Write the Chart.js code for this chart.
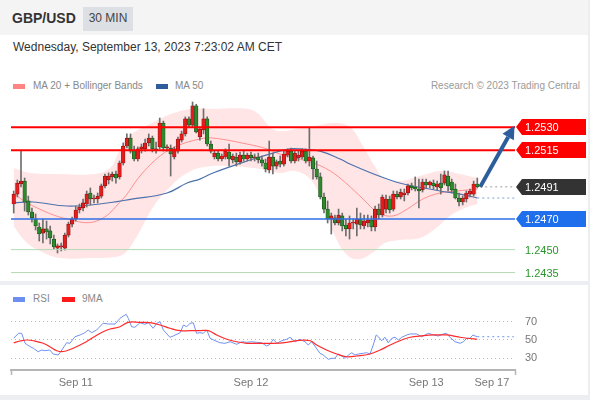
<!DOCTYPE html>
<html>
<head>
<meta charset="utf-8">
<title>GBP/USD 30 MIN</title>
<script src="https://cdn.jsdelivr.net/npm/chart.js@4.4.1/dist/chart.umd.min.js"></script>
<style>
  html, body { margin: 0; padding: 0; }
  body { width: 590px; height: 400px; position: relative; overflow: hidden; background: #eceef1; font-family: "Liberation Sans", Arial, sans-serif; }
  .abs { position: absolute; white-space: nowrap; }
  #header { left: 0; top: 0; width: 588px; height: 35px; background: #f4f4f4; }
  #panelTop { left: 0; top: 35px; width: 588px; height: 246px; background: #fff; }
  #panelRsi { left: 0; top: 285px; width: 588px; height: 110px; background: #fff; }
  #symbol { left: 12px; top: 10px; font-size: 14px; line-height: 16px; font-weight: bold; color: #333; }
  #tf { left: 83px; top: 7px; width: 50px; height: 24px; line-height: 22px; font-size: 12px; text-align: center; background: #dcdfe3; color: #444; }
  #stamp { left: 13px; top: 40px; font-size: 12px; line-height: 14px; color: #333; }
  .legend { font-size: 10px; line-height: 12px; color: #888; }
  .sw { position: absolute; width: 12px; height: 5px; }
  canvas { position: absolute; left: 0; }
</style>
</head>
<body>
<div class="abs" id="header"></div>
<div class="abs" id="panelTop"></div>
<div class="abs" id="panelRsi"></div>
<div class="abs" id="symbol">GBP/USD</div>
<div class="abs" id="tf">30 MIN</div>
<div class="abs" id="stamp">Wednesday, September 13, 2023 7:23:02 AM CET</div>
<div class="sw" style="left:13px;top:84px;background:#ff8585"></div>
<div class="abs legend" style="left:33px;top:80px">MA 20 + Bollinger Bands</div>
<div class="sw" style="left:156px;top:84px;background:#2f5d9c"></div>
<div class="abs legend" style="left:175px;top:80px">MA 50</div>
<div class="abs legend" style="right:10px;top:80px;color:#9a9a9a">Research © 2023 Trading Central</div>
<div class="sw" style="left:13px;top:297px;background:#6d8ff0"></div>
<div class="abs legend" style="left:33px;top:293px">RSI</div>
<div class="sw" style="left:62px;top:297px;width:13px;background:#ff1a1a"></div>
<div class="abs legend" style="left:82px;top:293px">9MA</div>
<canvas id="price" width="590" height="187" style="top:95px"></canvas>
<canvas id="rsi" width="590" height="110" style="top:285px"></canvas>
<script>
// 30-minute GBP/USD candles, oldest first
const opens = [
  1.24798,1.24863,1.24929,1.24948,1.24818,1.24746,1.2470,1.24648,1.24608,1.24635,
  1.24622,1.24569,1.2451,1.24517,1.2451,1.24595,1.24667,1.2470,1.24759,1.24772,
  1.24798,1.2487,1.24831,1.24831,1.2485,1.24916,1.24955,1.24975,1.24994,1.24975,
  1.25066,1.25177,1.25229,1.25151,1.25092,1.25158,1.25158,1.25197,1.25229,1.25158,
  1.25171,1.25327,1.25164,1.25164,1.25105,1.25144,1.25216,1.25256,1.25354,1.25314,
  1.2544,1.25236,1.25282,1.25354,1.2519,1.25105,1.25131,1.25092,1.25105,1.25138,
  1.25086,1.25105,1.25073,1.25118,1.25092,1.25118,1.25099,1.25105,1.25086,1.25066,
  1.2502,1.25105,1.25046,1.25079,1.25059,1.25118,1.25144,1.25079,1.25099,1.25105,
  1.25144,1.25079,1.25099,1.25027,1.24975,1.24844,1.24765,1.2470,1.24707,1.24674,
  1.2472,1.24661,1.24635,1.24674,1.24667,1.2470,1.24654,1.24674,1.24693,1.24648,
  1.24765,1.24726,1.24765,1.24831,1.24765,1.24863,1.24844,1.24857,1.2487,1.24916,
  1.24909,1.24896,1.2489,1.24942,1.24922,1.24935,1.24909,1.24935,1.24935,1.24981,
  1.24942,1.24896,1.24837,1.24811,1.24831,1.24863,1.24863,1.24929];
const highs = [
  1.24883,1.24955,1.25144,1.24968,1.2485,1.24772,1.24733,1.24674,1.2470,1.24687,
  1.24654,1.24595,1.24537,1.24543,1.24608,1.2468,1.24713,1.24785,1.24798,1.24831,
  1.24883,1.24903,1.24857,1.2487,1.24929,1.24994,1.25001,1.25007,1.25014,1.25079,
  1.25197,1.25256,1.25256,1.25177,1.25171,1.2519,1.25223,1.25256,1.25242,1.25203,
  1.2536,1.2534,1.25184,1.25184,1.25171,1.25236,1.25275,1.25367,1.25367,1.25465,
  1.2545,1.25301,1.2542,1.25367,1.2521,1.25144,1.25144,1.25125,1.25158,1.2519,
  1.25125,1.25131,1.25138,1.25144,1.25131,1.25138,1.25125,1.25131,1.25112,1.25092,
  1.2521,1.25131,1.25086,1.25112,1.25144,1.25158,1.25164,1.25144,1.25144,1.25158,
  1.25158,1.25295,1.25112,1.25079,1.25001,1.2487,1.24818,1.24739,1.24726,1.24765,
  1.24739,1.2470,1.2472,1.2470,1.24772,1.24739,1.24726,1.24726,1.2472,1.24785,
  1.24798,1.24857,1.24857,1.2485,1.24883,1.24883,1.24896,1.24896,1.24929,1.24935,
  1.24975,1.24961,1.24961,1.24961,1.24948,1.24955,1.24948,1.24994,1.25014,1.25014,
  1.24961,1.24929,1.2487,1.2485,1.24883,1.24896,1.24948,1.24968];
const lows = [
  1.24739,1.24844,1.24909,1.24752,1.24726,1.2468,1.24628,1.24556,1.24543,1.24569,
  1.24537,1.24504,1.24478,1.24491,1.24497,1.24582,1.24648,1.24687,1.24739,1.24752,
  1.24778,1.24792,1.24805,1.24805,1.24837,1.24903,1.24929,1.24948,1.24935,1.24961,
  1.25053,1.25164,1.25131,1.25079,1.25079,1.25131,1.25144,1.25177,1.25138,1.25131,
  1.25158,1.25144,1.25144,1.24981,1.25092,1.25131,1.25203,1.25242,1.25301,1.25301,
  1.25262,1.25216,1.25256,1.25177,1.25131,1.25092,1.25079,1.25079,1.25092,1.25046,
  1.25066,1.25046,1.25059,1.25079,1.25079,1.25079,1.25079,1.25066,1.25046,1.25007,
  1.25001,1.24994,1.25027,1.2504,1.25046,1.25105,1.25066,1.25066,1.25079,1.25092,
  1.25066,1.25046,1.24961,1.24961,1.24831,1.24739,1.24674,1.24602,1.24661,1.24661,
  1.24622,1.24589,1.24569,1.24635,1.24589,1.24635,1.24635,1.24648,1.24622,1.24622,
  1.2470,1.24713,1.24739,1.24739,1.24752,1.24831,1.24831,1.24818,1.24857,1.2489,
  1.24883,1.24772,1.24876,1.24903,1.24903,1.24896,1.2489,1.24863,1.24922,1.24883,
  1.2487,1.24831,1.24785,1.24792,1.24811,1.24844,1.2485,1.24903];
const closes = [
  1.24863,1.24935,1.24948,1.24811,1.24746,1.24707,1.24654,1.24602,1.24635,1.24615,
  1.24576,1.24517,1.24524,1.24524,1.24595,1.24667,1.2470,1.24759,1.24778,1.24805,
  1.24863,1.24831,1.24837,1.2485,1.24916,1.24981,1.24981,1.24994,1.24968,1.25066,
  1.25177,1.25229,1.25144,1.25092,1.25158,1.25171,1.25197,1.25229,1.25158,1.25151,
  1.25327,1.25164,1.25171,1.25125,1.25158,1.25223,1.25256,1.25354,1.25314,1.2544,
  1.25269,1.25288,1.25354,1.2519,1.25144,1.25131,1.25092,1.25112,1.25144,1.25092,
  1.25112,1.25073,1.25118,1.25092,1.25118,1.25099,1.25105,1.25086,1.25066,1.25027,
  1.25105,1.25046,1.25073,1.25059,1.25125,1.25144,1.25079,1.25131,1.25118,1.25144,
  1.25079,1.25105,1.25027,1.24975,1.24844,1.24765,1.2470,1.2472,1.24674,1.24726,
  1.24654,1.24635,1.24674,1.2468,1.2470,1.24661,1.24687,1.24693,1.24648,1.24765,
  1.24726,1.24844,1.24831,1.24759,1.24863,1.24844,1.24876,1.2487,1.24916,1.24903,
  1.24896,1.24883,1.24942,1.24922,1.24942,1.24916,1.24929,1.24903,1.24988,1.24916,
  1.2489,1.24837,1.24811,1.24837,1.2487,1.24883,1.24929,1.2491];

// Moving averages and Bollinger envelope, sampled by candle index
const ma20At  = [0,5.3,14.6,22.8,29.9,34.6,40.1,44.7,51,54.6,63.9,69.4,72.9,82,86.7,91,95.7,100,103.9,107.8,112.1,116.8,121.4,127];
const ma20Val = [1.24863,1.24785,1.2470,1.24687,1.24831,1.24981,1.25112,1.25177,1.25223,1.25229,1.2519,1.25158,1.25125,1.25066,1.25014,1.24935,1.24831,1.24739,1.2472,1.24765,1.24831,1.2487,1.24883,1.24896];
const ma50At  = [0,5.3,14.6,23.6,32.7,42,47.5,51,54.6,63.9,71,75.7,78.4,83.9,89.4,92.1,98.6,104.7,108,116.8,122.3,127];
const ma50Val = [1.24805,1.24811,1.24785,1.24798,1.24831,1.2487,1.24935,1.24961,1.25001,1.25079,1.25131,1.25158,1.25158,1.25144,1.25092,1.25059,1.24994,1.24942,1.24922,1.24883,1.24863,1.24837];
const upperAt  = [0,4.5,12.7,22.3,26.4,28.3,29.9,32.7,37.3,40.1,43.1,48.6,54.6,63.9,66.7,68.3,70.8,74.3,78.4,82.6,88,92.1,95.7,98.9,101.7,105.8,111.3,116.8,120.9,127];
const upperVal = [1.25033,1.25001,1.24994,1.24994,1.25033,1.25112,1.2519,1.25262,1.25321,1.25354,1.25386,1.2542,1.2542,1.2542,1.25393,1.25354,1.25288,1.25275,1.25295,1.25308,1.25327,1.25301,1.25177,1.25046,1.24961,1.24948,1.24981,1.25014,1.25001,1.24968];
const lowerAt  = [0,3.1,7.2,12.7,20.9,27.8,30.5,33.8,38.4,43.1,47.5,52.1,59.3,67.5,73,77.1,81.2,84.5,88,91.6,94.9,98.2,101.7,105.8,111.3,115.4,119.5,123.6,127];
const lowerVal = [1.24654,1.24556,1.24491,1.24445,1.24445,1.24452,1.24478,1.24589,1.24785,1.24916,1.25001,1.2504,1.25046,1.25027,1.25001,1.25014,1.24961,1.24818,1.24589,1.24458,1.24439,1.24478,1.24543,1.24563,1.24576,1.24635,1.2472,1.24772,1.24798];

// RSI and its 9-period average
const rsiAt  = [0,1.3,2.2,3.1,4.5,5.4,6.7,7.7,8.6,9.9,10.8,12.2,13.2,14.5,15.4,16.8,18.2,19.5,20.4,21.4,22.7,24.5,25.9,27.8,29.1,30.8,31.4,32.3,33.2,34.6,35.9,36.9,38.2,39.2,40.1,41,42.8,43.7,45.6,46.5,47.4,48.3,49.2,50.1,51,51.9,52.9,53.8,55.2,56.5,57.9,59.3,61.1,62.5,63.8,65.2,66.6,67.9,69.3,70.2,71.1,72.1,73.4,74.8,75.7,77.1,78.4,79.8,80.7,81.6,82.5,83.9,84.8,86.2,87.1,88,88.9,89.9,90.8,91.7,92.6,93.5,94.4,95.8,96.7,97.6,98.5,99.3,99.9,100.8,101.7,102.6,103.6,104.5,105.4,106.3,107.7,108.6,110.4,111.8,112.7,113.6,115,116.3,117.7,118.6,119.5,120.9,122.3,123.2,124.1,125,125.8,126.4,127];
const rsiVal = [51.9,57.3,57.3,46.4,42.7,40.9,37.2,39.1,38.3,39.1,34.7,33.6,39.1,47,46.4,53.6,55.5,58,60.9,58,60.9,68.3,67.5,67.5,73.7,78.1,73.7,64.5,63.9,68.9,67.2,68.9,62.8,68.3,70,60.9,53,54.4,58,66.4,64.5,68.3,68.9,57.3,58,57.3,60.9,51.9,49.2,47,46.4,48.1,45.3,48.1,47.5,48.1,47.5,47,43.4,45.3,50.8,46.4,49.2,50.8,53,48.1,50.8,48.1,44.5,48.1,43.4,35.5,33.6,28.9,30,30,34.7,32.5,30,33.6,36.1,33.6,34.7,35.5,36.1,34.7,44.5,55.5,53.6,49.2,53,47,51.9,53,50,53,55.5,56.6,56.6,53.6,55.5,57.3,55.5,54.4,56.6,57.3,53,48.1,46.4,48.1,51.9,51.9,55.5,54.4,53.6];
const ma9At  = [0,1.7,3.6,5.4,8.1,9.9,11.8,13.2,14.5,16.3,19.1,21.8,24.5,26.4,29.1,31.4,34.6,37.3,40.1,42.8,45.6,48.3,51,53.3,55.6,58.4,61.1,63.8,67.5,71.1,74.8,78.4,81.2,83,85.7,88.5,91.2,93.9,97.6,100.4,103.1,105.8,108.6,112.2,115,118.6,121.4,124.1,127];
const ma9Val = [47,48.9,50,49.2,46.4,42.7,38.3,37.2,38.3,40.9,46.4,53,59.1,62,64.5,69.3,69.3,68.9,66.4,62.8,60.2,60.2,60.2,60.2,55.5,50.8,48.1,46.4,46.4,46.4,47.5,49.6,49.2,44.5,39.1,34.7,31.7,32.5,34.7,39.1,44.5,49.2,53,54.7,55.5,55.5,53.6,51.9,50.8];

// Key levels
const resistances = [1.2530, 1.2515];
const pivotLevel  = 1.2470;
const supports    = [1.2450, 1.2435];
const lastPrice   = 1.2491;
const tagLevels   = [1.2530, 1.2515, 1.2491, 1.2470];
const tagColors   = ['#ff0000', '#ff0000', '#333333', '#1f6fec'];

// Time axis
const tickAt     = [17, 65, 113, 131];
const tickLabels = ['Sep 11', 'Sep 12', 'Sep 13', 'Sep 17'];
const rsiLevels  = [30, 50, 70];

// Projected move
const arrowFrom = [127.8, 1.2491];
const arrowTo   = [137.2, 1.2531];

// ---- layout of the shared time axis
const X_MIN = -0.74, X_MAX = 137.33;
const Y_MIN = 1.2430131, Y_MAX = 1.2549739;
const FONT = '"Liberation Sans", Arial, sans-serif';

const pts = (xs, ys) => xs.map((x, k) => ({ x, y: ys[k] }));
const hline = (v) => [{ x: X_MIN, y: v }, { x: X_MAX, y: v }];
const RED = '#e31d1d', RED_EDGE = '#8a1111', GREEN = '#2c8a2c', GREEN_EDGE = '#1a4f1a';
const isUp = closes.map((c, i) => c >= opens[i]);

const levelLine = (v, color, width, order, dash) => ({
  type: 'line', data: hline(v), borderColor: color, borderWidth: width,
  borderDash: dash || [], pointRadius: 0, order, fill: false
});

const priceTags = {
  id: 'priceTags',
  afterDatasetsDraw(chart) {
    const { ctx, scales: { x, y } } = chart;
    // projected direction arrow
    const x1 = x.getPixelForValue(arrowFrom[0]), y1 = y.getPixelForValue(arrowFrom[1]);
    const x2 = x.getPixelForValue(arrowTo[0]), y2 = y.getPixelForValue(arrowTo[1]);
    const ang = Math.atan2(y2 - y1, x2 - x1);
    const head = 13, hw = 6.5;
    const bx = x2 - head * Math.cos(ang), by = y2 - head * Math.sin(ang);
    ctx.save();
    ctx.strokeStyle = '#2d5e9c';
    ctx.fillStyle = '#2d5e9c';
    ctx.lineWidth = 4;
    ctx.beginPath(); ctx.moveTo(x1, y1); ctx.lineTo(bx, by); ctx.stroke();
    ctx.beginPath();
    ctx.moveTo(x2, y2);
    ctx.lineTo(bx + hw * Math.sin(ang), by - hw * Math.cos(ang));
    ctx.lineTo(bx - hw * Math.sin(ang), by + hw * Math.cos(ang));
    ctx.closePath(); ctx.fill();
    ctx.restore();
  },
  afterDraw(chart) {
    const { ctx, chartArea, scales: { y } } = chart;
    const x0 = chartArea.right + 1;
    ctx.save();
    ctx.font = '11px ' + FONT;
    ctx.textBaseline = 'middle';
    tagLevels.forEach((v, k) => {
      const py = Math.round(y.getPixelForValue(v));
      ctx.fillStyle = tagColors[k];
      ctx.beginPath();
      ctx.moveTo(x0, py);
      ctx.lineTo(x0 + 6, py - 8);
      ctx.lineTo(586, py - 8);
      ctx.lineTo(586, py + 8);
      ctx.lineTo(x0 + 6, py + 8);
      ctx.closePath();
      ctx.fill();
      ctx.fillStyle = '#ffffff';
      ctx.fillText(v.toFixed(4), x0 + 9, py + 0.5);
    });
    ctx.fillStyle = '#2a962a';
    supports.forEach(v => {
      ctx.fillText(v.toFixed(4), x0 + 9, Math.round(y.getPixelForValue(v)) + 0.5);
    });
    ctx.restore();
  }
};

new Chart(document.getElementById('price'), {
  type: 'bar',
  data: {
    datasets: [
      { type: 'line', data: pts(upperAt, upperVal), borderWidth: 0, borderColor: 'rgba(0,0,0,0)',
        backgroundColor: 'rgba(255,40,40,0.12)', fill: '+1', pointRadius: 0, tension: 0.4, order: 20 },
      { type: 'line', data: pts(lowerAt, lowerVal), borderWidth: 0, borderColor: 'rgba(0,0,0,0)',
        fill: false, pointRadius: 0, tension: 0.4, order: 20 },
      { type: 'line', data: pts(ma20At, ma20Val), borderColor: '#ff8f8f', borderWidth: 1,
        fill: false, pointRadius: 0, tension: 0.4, order: 12 },
      { type: 'line', data: pts(ma50At, ma50Val), borderColor: '#4d72ad', borderWidth: 1.2,
        fill: false, pointRadius: 0, tension: 0.4, order: 11 },
      { type: 'bar', data: closes.map((c, i) => ({ x: i, y: [lows[i], highs[i]] })),
        backgroundColor: '#6e6e6e', barThickness: 1, grouped: false, order: 9 },
      { type: 'bar', data: closes.map((c, i) => ({ x: i, y: [opens[i], c] })),
        backgroundColor: isUp.map(u => u ? RED : GREEN),
        borderColor: isUp.map(u => u ? RED_EDGE : GREEN_EDGE),
        borderWidth: 0.7, borderSkipped: false, minBarLength: 1,
        barThickness: 3.6, grouped: false, order: 8 },
      levelLine(supports[0], '#b4dab4', 1, 6),
      levelLine(supports[1], '#b4dab4', 1, 6),
      { type: 'line', data: [{ x: 127.8, y: lastPrice }, { x: X_MAX, y: lastPrice }], borderColor: '#9a9a9a',
        borderWidth: 1, borderDash: [2, 3], pointRadius: 0, fill: false, order: 5 },
      { type: 'line', data: [{ x: 127, y: ma50Val[ma50Val.length - 1] }, { x: X_MAX, y: ma50Val[ma50Val.length - 1] }],
        borderColor: '#7f9ed0', borderWidth: 1, borderDash: [2, 3], pointRadius: 0, fill: false, order: 5 },
      levelLine(pivotLevel, '#2f6fe6', 1.5, 3),
      levelLine(resistances[0], '#ff0000', 2, 2),
      levelLine(resistances[1], '#ff0000', 2, 2)
    ]
  },
  options: {
    responsive: false, animation: false, events: [],
    layout: { padding: { left: 11, right: 75, top: 2, bottom: 2 } },
    plugins: { legend: { display: false }, tooltip: { enabled: false } },
    scales: {
      x: { type: 'linear', min: X_MIN, max: X_MAX, offset: false, display: false },
      y: { type: 'linear', min: Y_MIN, max: Y_MAX, display: false }
    }
  },
  plugins: [priceTags]
});

const axisEnds = {
  id: 'axisEnds',
  afterDraw(chart) {
    const { ctx, chartArea } = chart;
    ctx.save();
    ctx.strokeStyle = '#b5b5b5';
    ctx.lineWidth = 1.5;
    [chartArea.left + 0.5, chartArea.right + 0.5].forEach(px => {
      ctx.beginPath(); ctx.moveTo(px, chartArea.bottom); ctx.lineTo(px, chartArea.bottom + 5); ctx.stroke();
    });
    ctx.restore();
  }
};

const lastRsi = rsiVal[rsiVal.length - 1];
new Chart(document.getElementById('rsi'), {
  type: 'line',
  data: {
    datasets: [
      { data: pts(rsiAt, rsiVal), borderColor: '#7092ef', borderWidth: 1, pointRadius: 0, tension: 0, fill: false, order: 2 },
      { data: pts(ma9At, ma9Val), borderColor: '#ff2b2b', borderWidth: 1.2, pointRadius: 0, tension: 0.4, fill: false, order: 1 },
      { data: [{ x: 127, y: lastRsi }, { x: 137, y: lastRsi }], borderColor: '#7092ef', borderWidth: 1,
        borderDash: [2, 3], pointRadius: 0, fill: false, order: 3 }
    ]
  },
  options: {
    responsive: false, animation: false, events: [],
    layout: { padding: { left: 11, right: 0, top: 20, bottom: 0 } },
    plugins: { legend: { display: false }, tooltip: { enabled: false } },
    scales: {
      x: {
        type: 'linear', min: X_MIN, max: X_MAX, offset: false,
        grid: { display: false },
        border: { display: true, color: '#b5b5b5', width: 2 },
        afterBuildTicks: s => { s.ticks = tickAt.map(v => ({ value: v })); },
        afterFit: s => { s.height = 25; },
        ticks: { autoSkip: false, maxRotation: 0, padding: -2, color: '#777', font: { family: FONT, size: 11 },
                 callback: (v, i) => tickLabels[i] }
      },
      y: {
        position: 'right', min: 17.21, max: 88.25,
        afterBuildTicks: s => { s.ticks = rsiLevels.map(v => ({ value: v })); },
        afterFit: s => { s.width = 75; },
        grid: { color: '#b9b9b9', drawTicks: false, lineWidth: 1 },
        border: { display: false, dash: [1, 3] },
        ticks: { padding: 10, color: '#777', font: { family: FONT, size: 11 } }
      }
    }
  },
  plugins: [axisEnds]
});
</script>
</body>
</html>
